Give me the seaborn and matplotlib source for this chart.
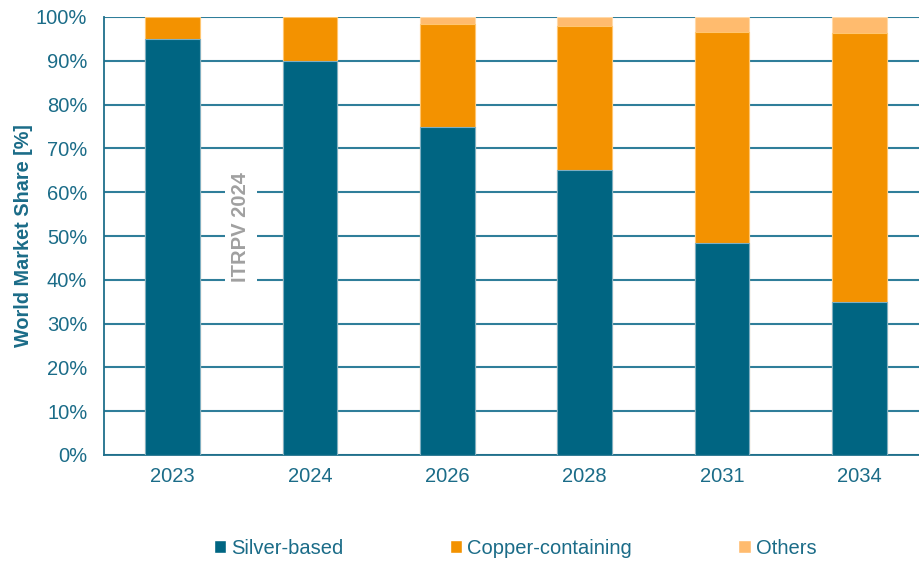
import matplotlib
matplotlib.use("Agg")
import matplotlib.pyplot as plt
import seaborn as sns
import pandas as pd
import numpy as np
from matplotlib.patches import Patch
from matplotlib.ticker import PercentFormatter

years = ["2023", "2024", "2026", "2028", "2031", "2034"]
silver = [95.0, 90.0, 75.0, 65.0, 48.5, 35.0]
copper = [5.0, 10.0, 23.5, 33.0, 48.0, 61.3]
others = [0.0, 0.0, 1.5, 2.0, 3.5, 3.7]

C_SILVER = "#006582"
C_COPPER = "#F39200"
C_OTHERS = "#FFBB6E"
TEAL = "#1B6C88"

sns.set_theme(style="white")
plt.rcParams["font.family"] = ["Liberation Sans", "DejaVu Sans"]

df = pd.DataFrame({"year": years, "silver": silver, "copper": copper, "others": others})
df["c2"] = df["silver"] + df["copper"]
df["c3"] = df["c2"] + df["others"]

fig = plt.figure(figsize=(9.2, 5.61), dpi=100)
ax = fig.add_axes([104 / 920, 1 - 455 / 561, 824 / 920, 438 / 561])

for col, color, edge in [("c3", C_OTHERS, "#FFD9A8"), ("c2", C_COPPER, "#FFC670"), ("silver", C_SILVER, "#7FAFC2")]:
    sns.barplot(data=df, x="year", y=col, color=color, width=0.4, ax=ax,
                edgecolor=edge, linewidth=0.8, saturation=1, zorder=3)

ax.set_xlim(-0.5, 5.5)
ax.set_ylim(0, 100)
ax.set_yticks(np.arange(0, 101, 10))
ax.yaxis.set_major_formatter(PercentFormatter(decimals=0))
ax.grid(axis="y", color="#2F7E9A", linewidth=1.5, zorder=0)
ax.set_axisbelow(True)
for s in ["top", "right"]:
    ax.spines[s].set_visible(False)
for s in ["left", "bottom"]:
    ax.spines[s].set_color("#1F6F8B")
    ax.spines[s].set_linewidth(1.3)
ax.tick_params(axis="both", length=0, labelsize=14.5, labelcolor=TEAL)
ax.tick_params(axis="x", pad=9)
ax.tick_params(axis="y", pad=12)
ax.set_xlabel("")
ax.set_ylabel("World Market Share [%]", fontsize=14.3, fontweight="bold", color=TEAL, labelpad=2)

ax.text(241, 561 - 227, "ITRPV 2024", transform=None, rotation=90, ha="center", va="center",
        fontsize=14.5, fontweight="bold", color="#A0A0A0",
        bbox=dict(boxstyle="square,pad=0.3", facecolor="white", edgecolor="none"), zorder=2)

handles = [Patch(facecolor=C_SILVER, label="Silver-based"),
           Patch(facecolor=C_COPPER, label="Copper-containing"),
           Patch(facecolor=C_OTHERS, label="Others")]
leg = fig.legend(handles=handles, loc="center", bbox_to_anchor=(515 / 920, 1 - 548 / 561), ncol=3,
                 frameon=False, fontsize=14.5, handlelength=0.6, handleheight=0.6,
                 handletextpad=0.25, columnspacing=5.3)
for t in leg.get_texts():
    t.set_color(TEAL)

fig.savefig("out.png", dpi=100)
